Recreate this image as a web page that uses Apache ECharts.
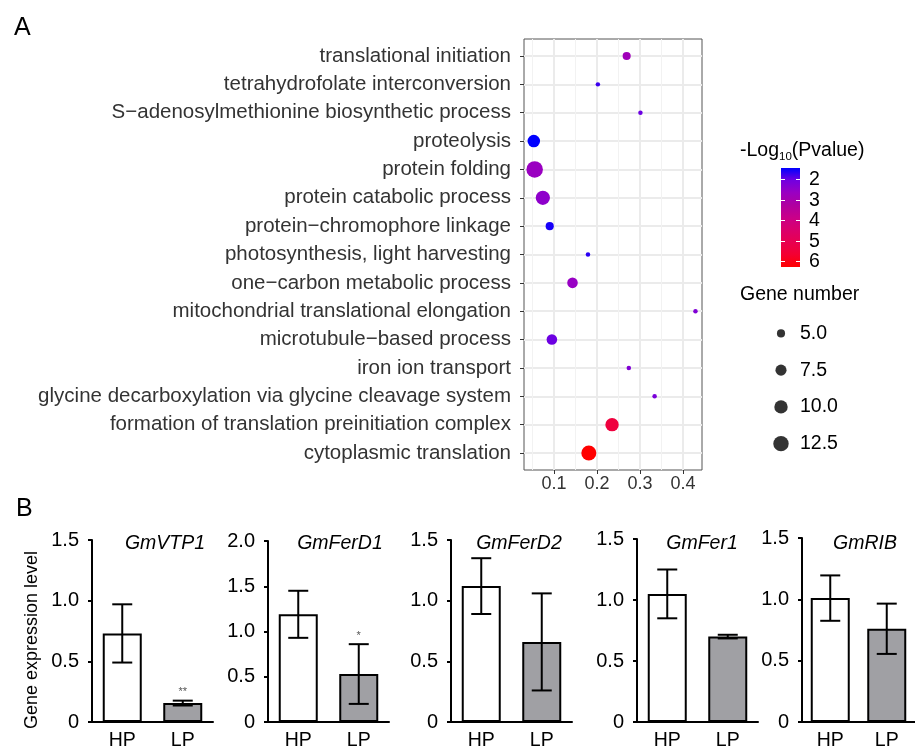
<!DOCTYPE html>
<html><head><meta charset="utf-8">
<script src="https://cdn.jsdelivr.net/npm/echarts@6/dist/echarts.min.js"></script>
<style>html,body{margin:0;padding:0;background:#fff}#c{width:915px;height:751px}</style>
</head><body><div id="c"></div>
<script>
// ---------- Panel A data ----------
const categories = [
  "translational initiation",
  "tetrahydrofolate interconversion",
  "S\u2212adenosylmethionine biosynthetic process",
  "proteolysis",
  "protein folding",
  "protein catabolic process",
  "protein\u2212chromophore linkage",
  "photosynthesis, light harvesting",
  "one\u2212carbon metabolic process",
  "mitochondrial translational elongation",
  "microtubule\u2212based process",
  "iron ion transport",
  "glycine decarboxylation via glycine cleavage system",
  "formation of translation preinitiation complex",
  "cytoplasmic translation"
];
const richFactor = [0.269, 0.202, 0.301, 0.053, 0.055, 0.074, 0.090, 0.179, 0.143, 0.429, 0.095, 0.274, 0.334, 0.235, 0.181];
const geneNumber = [5, 3, 3, 9, 14, 11, 5, 3, 7, 3, 7, 3, 3, 10, 12];
const negLog10P = [2.8, 1.75, 2.0, 1.43, 2.65, 2.45, 1.55, 1.65, 2.6, 2.25, 2.0, 2.25, 2.15, 5.4, 6.26];
const xTicks = [0.1, 0.2, 0.3, 0.4];
const xMinorTicks = [0.05, 0.15, 0.25, 0.35];
const colorTicks = [2, 3, 4, 5, 6];
const sizeBreaks = [5.0, 7.5, 10.0, 12.5];
const sizeBreakLabels = ["5.0", "7.5", "10.0", "12.5"];

// ---------- Panel B data ----------
const genes = ["GmVTP1", "GmFerD1", "GmFerD2", "GmFer1", "GmRIB"];
const groups = ["HP", "LP"];
const meanHP = [0.73, 1.19, 1.12, 1.05, 1.01];
const errHP  = [0.24, 0.26, 0.23, 0.20, 0.185];
const meanLP = [0.156, 0.53, 0.66, 0.70, 0.76];
const errLP  = [0.02, 0.33, 0.40, 0.015, 0.205];
const sigLP  = ["**", "*", "", "", ""];
const yMax   = [1.5, 2.0, 1.5, 1.5, 1.5];

// ---------- styles ----------
const FF = '"Liberation Sans", Arial, Helvetica, sans-serif';
const gradColors = ['#0000FF','#7200E0','#9A00C2','#AF00A0','#C90089','#DA006C','#E80050','#F40031','#FF0000'];
const cMin = 1.43, cMax = 6.26;
function dotSize(n){ return Math.sqrt(Math.max(20, 20 + 22.9 * (n - 3))); }

const chart = echarts.init(document.getElementById('c'), null, {renderer: 'canvas'});

const grids = [], xAxes = [], yAxes = [], series = [], graphics = [];

// Grid 0: dot plot
grids.push({left: 524, top: 39, width: 178, height: 431, show: true, borderColor: '#555', borderWidth: 1, backgroundColor: '#fff'});
xAxes.push({
  type: 'value', gridIndex: 0, min: 0.0302, max: 0.4442, position: 'bottom',
  axisLine: {show: false, onZero: false},
  axisTick: {show: true, customValues: xTicks, length: 4, lineStyle: {color: '#333', width: 1}},
  axisLabel: {customValues: xTicks, formatter: v => v.toFixed(1), fontFamily: FF, fontSize: 18, color: '#333', margin: 5},
  splitLine: {show: true, lineStyle: {color: '#EBEBEB', width: 2}}
});
xAxes.push({
  type: 'value', gridIndex: 0, min: 0.0302, max: 0.4442, position: 'top',
  axisLine: {show: false, onZero: false},
  axisTick: {show: false, customValues: xMinorTicks},
  axisLabel: {show: false, customValues: xMinorTicks},
  splitLine: {show: true, lineStyle: {color: '#F2F2F2', width: 1}}
});
const catIdx = categories.map((c, i) => i);
yAxes.push({
  type: 'value', gridIndex: 0, min: -0.6, max: categories.length - 0.4, inverse: true,
  axisLine: {show: false, onZero: false},
  axisTick: {show: true, customValues: catIdx, length: 4, lineStyle: {color: '#333', width: 1}},
  axisLabel: {customValues: catIdx, formatter: v => categories[Math.round(v)], fontFamily: FF, fontSize: 20.5, color: '#333', margin: 13},
  splitLine: {show: true, lineStyle: {color: '#EBEBEB', width: 2}}
});
series.push({
  type: 'scatter', xAxisIndex: 0, yAxisIndex: 0,
  data: categories.map((c, i) => [richFactor[i], i, geneNumber[i], negLog10P[i]]),
  symbolSize: v => dotSize(v[2]),
  itemStyle: {opacity: 1},
  z: 5
});

// Grid 1: colour bar
grids.push({left: 781, top: 168, width: 19, height: 99, show: true, borderWidth: 0,
  backgroundColor: {type: 'linear', x: 0, y: 0, x2: 0, y2: 1,
    colorStops: gradColors.map((c, i) => ({offset: i / (gradColors.length - 1), color: c}))}});
xAxes.push({type: 'value', gridIndex: 1, show: false, min: 0, max: 1, axisLine: {onZero: false}});
yAxes.push({
  type: 'value', gridIndex: 1, min: cMin, max: cMax, inverse: true, position: 'right',
  axisLine: {show: false, onZero: false},
  axisTick: {show: true, inside: true, length: 4, customValues: colorTicks, lineStyle: {color: '#fff', width: 1}},
  axisLabel: {customValues: colorTicks, fontFamily: FF, fontSize: 19.5, color: '#000', margin: 9},
  splitLine: {show: false}
});
yAxes.push({
  type: 'value', gridIndex: 1, min: cMin, max: cMax, inverse: true, position: 'left',
  axisLine: {show: false, onZero: false},
  axisTick: {show: true, inside: true, length: 4, customValues: colorTicks, lineStyle: {color: '#fff', width: 1}},
  axisLabel: {show: false, customValues: colorTicks},
  splitLine: {show: false}
});

// Grid 2: size legend
grids.push({left: 772, top: 315, width: 18, height: 147});
xAxes.push({type: 'value', gridIndex: 2, show: false, min: -1, max: 1, axisLine: {onZero: false}});
yAxes.push({
  type: 'category', gridIndex: 2, data: sizeBreakLabels, inverse: true, position: 'right',
  axisLine: {show: false, onZero: false}, axisTick: {show: false},
  axisLabel: {fontFamily: FF, fontSize: 19.5, color: '#000', margin: 10, align: 'left'},
  splitLine: {show: false}
});
series.push({
  type: 'scatter', xAxisIndex: 3, yAxisIndex: 3,
  data: sizeBreaks.map((v, i) => [0, i, v]),
  symbolSize: v => dotSize(v[2]),
  itemStyle: {color: '#000'},
  silent: true
});

// Bar panels
const panelLeft = [92, 268, 451, 637, 802];
const panelTop = [540, 541, 540, 539, 538];
const panelH = [183, 183, 183, 183, 184];
const titleX = [165, 340, 519, 702, 865];
genes.forEach((g, k) => {
  const gi = 3 + k;
  grids.push({left: panelLeft[k], top: panelTop[k], width: 121, height: panelH[k]});
  xAxes.push({
    type: 'category', gridIndex: gi, data: groups,
    axisLine: {show: true, onZero: false, lineStyle: {color: '#000', width: 2}},
    axisTick: {show: true, inside: true, alignWithLabel: true, length: 5, lineStyle: {color: '#000', width: 2}},
    axisLabel: {fontFamily: FF, fontSize: 19.5, color: '#000', margin: 9},
    splitLine: {show: false}
  });
  yAxes.push({
    type: 'value', gridIndex: gi, min: 0, max: yMax[k], interval: 0.5,
    axisLine: {show: true, onZero: false, lineStyle: {color: '#000', width: 2}},
    axisTick: {show: true, length: 4, lineStyle: {color: '#000', width: 2}},
    axisLabel: {fontFamily: FF, fontSize: 20, color: '#000', margin: 13, formatter: v => v === 0 ? '0' : v.toFixed(1)},
    splitLine: {show: false}
  });
  const xi = xAxes.length - 1, yi = yAxes.length - 1;
  series.push({
    type: 'bar', xAxisIndex: xi, yAxisIndex: yi, barWidth: 39,
    data: [meanHP[k], meanLP[k]],
    itemStyle: {color: p => p.dataIndex === 0 ? '#ffffff' : '#A0A0A4', borderColor: '#000', borderWidth: 2},
    z: 2
  });
  series.push({
    type: 'custom', xAxisIndex: xi, yAxisIndex: yi, z: 3,
    data: [[0, meanHP[k], errHP[k], ''], [1, meanLP[k], errLP[k], sigLP[k]]],
    renderItem: (params, api) => {
      const x = api.value(0), m = api.value(1), e = api.value(2);
      const top = api.coord([x, m + e]);
      const bot = api.coord([x, m - e]);
      const cap = 10;
      const st = {stroke: '#000', lineWidth: 2};
      const children = [
        {type: 'line', shape: {x1: top[0], y1: top[1], x2: bot[0], y2: bot[1]}, style: st},
        {type: 'line', shape: {x1: top[0] - cap, y1: top[1], x2: top[0] + cap, y2: top[1]}, style: st},
        {type: 'line', shape: {x1: bot[0] - cap, y1: bot[1], x2: bot[0] + cap, y2: bot[1]}, style: st}
      ];
      const s = api.value(3);
      if (s) {
        children.push({type: 'text', x: top[0], y: top[1] - 3,
          style: {text: s, font: '11px ' + FF, fill: '#555', align: 'center', verticalAlign: 'bottom'}});
      }
      return {type: 'group', children};
    }
  });
  graphics.push({type: 'text', x: titleX[k], y: 544,
    style: {text: g, font: 'italic 19.5px ' + FF, fill: '#000', align: 'center', verticalAlign: 'middle'}});
});

// Texts
graphics.push({type: 'text', x: 14, y: 28, style: {text: 'A', font: '25px ' + FF, fill: '#000', align: 'left', verticalAlign: 'middle'}});
graphics.push({type: 'text', x: 16, y: 509, style: {text: 'B', font: '25px ' + FF, fill: '#000', align: 'left', verticalAlign: 'middle'}});
graphics.push({type: 'text', x: 32, y: 640, rotation: Math.PI / 2,
  style: {text: 'Gene expression level', font: '18px ' + FF, fill: '#000', align: 'center', verticalAlign: 'middle'}});
graphics.push({type: 'text', x: 740, y: 151,
  style: {text: '{m|-Log}{sub|10}{m|(Pvalue)}', align: 'left', verticalAlign: 'middle',
    rich: {
      m: {fontSize: 19.5, fontFamily: FF, fill: '#000', lineHeight: 26, verticalAlign: 'middle'},
      sub: {fontSize: 11.5, fontFamily: FF, fill: '#000', lineHeight: 26, verticalAlign: 'bottom', padding: [0, 0, 1, 0]}
    }}});
graphics.push({type: 'text', x: 740, y: 295,
  style: {text: 'Gene number', font: '19.5px ' + FF, fill: '#000', align: 'left', verticalAlign: 'middle'}});

chart.setOption({
  animation: false,
  backgroundColor: '#fff',
  textStyle: {fontFamily: FF},
  grid: grids, xAxis: xAxes, yAxis: yAxes, series: series,
  visualMap: [{
    type: 'continuous', show: false, seriesIndex: 0, dimension: 3,
    min: cMin, max: cMax, inRange: {color: gradColors}
  }],
  graphic: graphics
});
</script></body></html>
